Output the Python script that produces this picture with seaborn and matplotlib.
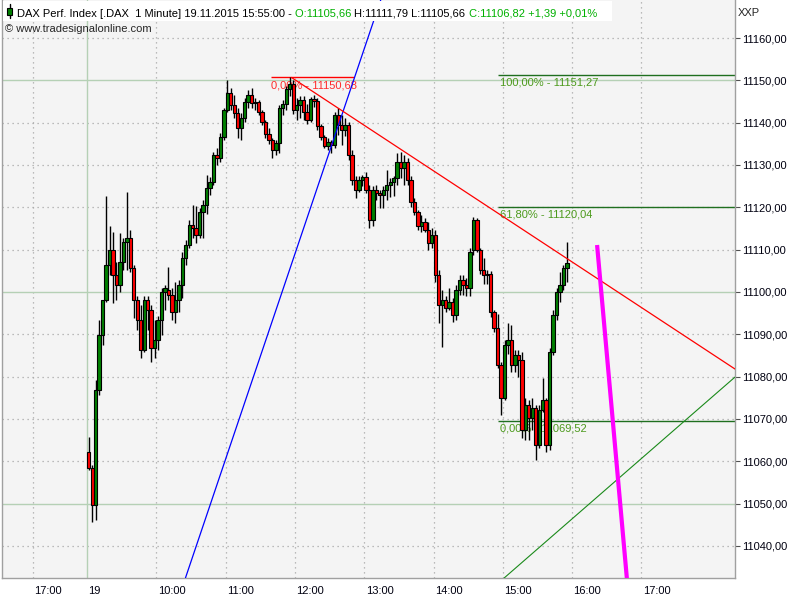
import numpy as np
import pandas as pd
import matplotlib
matplotlib.use("Agg")
import matplotlib.pyplot as plt
import matplotlib.transforms as mtransforms
from matplotlib.patches import Rectangle
from matplotlib.lines import Line2D
from matplotlib.text import Annotation
import seaborn as sns

# DAX 19.11.2015, candles (3-minute steps from 09:00)
opens = [
    11062.2, 11058.4, 11049.7, 11076.9, 11089.8, 11098.1, 11106.4, 11109.9, 11104.0, 11101.7,
    11107.1, 11111.8, 11112.8, 11105.7, 11098.1, 11093.4, 11086.3, 11098.1, 11095.8, 11086.8,
    11088.7, 11093.4, 11100.0, 11100.5, 11099.3, 11095.3, 11098.1, 11101.7, 11108.0, 11111.1,
    11115.8, 11115.1, 11113.5, 11118.9, 11120.6, 11124.6, 11126.0, 11132.4, 11131.7, 11136.6,
    11143.0, 11147.0, 11144.2, 11142.3, 11138.7, 11141.1, 11144.9, 11146.5, 11144.7, 11144.9,
    11142.5, 11140.2, 11137.3, 11135.9, 11133.5, 11135.2, 11143.5, 11144.4, 11148.0, 11149.1,
    11143.0, 11144.2, 11145.4, 11142.5, 11140.6, 11145.6, 11145.1, 11139.2, 11136.6, 11134.5,
    11135.4, 11134.7, 11141.8, 11139.5, 11138.3, 11139.5, 11132.4, 11126.5, 11124.1, 11126.5,
    11127.2, 11124.1, 11117.0, 11124.1, 11123.4, 11122.9, 11124.1, 11125.3, 11126.0, 11126.9,
    11130.7, 11129.3, 11130.7, 11126.5, 11121.3, 11118.9, 11115.6, 11116.5, 11114.6, 11111.6,
    11113.5, 11104.0, 11096.9, 11098.1, 11096.2, 11097.6, 11094.6, 11100.5, 11102.8, 11101.7,
    11100.9, 11109.9, 11117.0, 11109.9, 11105.2, 11104.0, 11104.3, 11095.3, 11091.5, 11082.8,
    11075.0, 11087.5, 11088.7, 11082.8, 11085.1, 11083.9, 11067.4, 11073.3, 11070.2, 11072.6,
    11063.9, 11072.1, 11074.5, 11063.9, 11085.8, 11094.6, 11100.0, 11101.7, 11105.7,
]
highs = [
    11065.7, 11059.1, 11079.2, 11093.4, 11098.1, 11122.7, 11115.6, 11114.2, 11107.1, 11113.9,
    11112.8, 11123.6, 11114.6, 11106.4, 11099.1, 11096.9, 11099.1, 11099.1, 11096.9, 11093.4,
    11094.3, 11100.9, 11101.7, 11105.9, 11100.9, 11102.4, 11102.8, 11109.5, 11112.3, 11117.0,
    11120.6, 11120.3, 11119.8, 11121.7, 11127.6, 11127.2, 11133.1, 11134.0, 11137.6, 11143.5,
    11150.1, 11148.2, 11146.5, 11143.5, 11142.3, 11145.8, 11147.7, 11148.2, 11145.8, 11145.4,
    11143.0, 11140.6, 11138.7, 11136.4, 11135.9, 11144.2, 11145.4, 11148.7, 11150.7, 11150.1,
    11145.8, 11146.3, 11146.3, 11144.4, 11146.1, 11146.5, 11145.8, 11139.7, 11137.1, 11136.4,
    11135.9, 11142.5, 11143.5, 11141.8, 11141.1, 11140.2, 11133.5, 11127.4, 11127.4, 11127.6,
    11128.4, 11125.3, 11125.0, 11125.3, 11124.1, 11125.0, 11128.8, 11126.9, 11127.4, 11132.8,
    11133.1, 11132.4, 11131.7, 11127.4, 11122.2, 11119.4, 11118.2, 11117.5, 11116.5, 11115.1,
    11114.6, 11105.2, 11100.5, 11099.1, 11100.9, 11098.6, 11101.7, 11104.0, 11104.0, 11103.3,
    11110.4, 11117.7, 11117.5, 11110.4, 11108.0, 11105.2, 11105.0, 11095.8, 11094.8, 11083.5,
    11088.7, 11092.7, 11092.2, 11086.3, 11086.3, 11085.8, 11075.0, 11074.5, 11075.0, 11073.3,
    11073.3, 11079.7, 11075.0, 11086.8, 11095.8, 11100.9, 11104.7, 11106.4, 11111.8,
]
lows = [
    11058.0, 11045.7, 11046.1, 11075.7, 11087.5, 11097.6, 11104.0, 11097.4, 11098.1, 11100.0,
    11105.2, 11105.2, 11104.7, 11093.9, 11091.0, 11084.4, 11085.8, 11091.0, 11083.5, 11084.4,
    11086.3, 11089.8, 11095.8, 11098.1, 11093.4, 11092.7, 11095.3, 11098.6, 11106.4, 11110.4,
    11112.8, 11111.6, 11112.8, 11112.8, 11118.4, 11122.9, 11125.3, 11130.0, 11130.7, 11135.9,
    11142.5, 11143.0, 11141.1, 11136.4, 11135.9, 11140.2, 11143.5, 11143.5, 11143.0, 11141.8,
    11139.5, 11136.4, 11135.0, 11131.7, 11132.4, 11132.8, 11141.8, 11143.0, 11146.3, 11142.0,
    11140.6, 11141.1, 11140.6, 11139.7, 11140.2, 11143.7, 11138.3, 11135.9, 11134.0, 11133.5,
    11132.8, 11134.0, 11137.1, 11134.7, 11136.9, 11131.2, 11125.3, 11122.2, 11123.6, 11125.0,
    11123.4, 11115.1, 11115.6, 11121.7, 11119.8, 11119.8, 11121.7, 11122.4, 11122.7, 11125.3,
    11126.9, 11125.3, 11125.3, 11120.1, 11118.2, 11114.6, 11114.2, 11114.2, 11109.9, 11110.4,
    11102.4, 11092.7, 11087.0, 11095.3, 11095.8, 11092.9, 11093.4, 11099.3, 11099.3, 11099.1,
    11099.1, 11108.7, 11109.5, 11104.3, 11101.9, 11101.9, 11094.1, 11090.6, 11082.0, 11070.9,
    11074.5, 11085.4, 11081.1, 11081.1, 11079.9, 11065.5, 11065.0, 11065.0, 11067.4, 11060.3,
    11063.1, 11071.6, 11062.2, 11062.7, 11085.1, 11093.4, 11097.6, 11100.5, 11102.4,
]
closes = [
    11058.4, 11049.7, 11076.9, 11089.8, 11098.1, 11106.4, 11109.9, 11104.0, 11101.7, 11107.1,
    11111.8, 11112.8, 11105.7, 11098.1, 11093.4, 11086.3, 11098.1, 11095.8, 11086.8, 11088.7,
    11093.4, 11100.0, 11100.9, 11099.3, 11095.3, 11098.1, 11101.7, 11108.0, 11111.1, 11115.8,
    11115.1, 11113.5, 11118.9, 11120.6, 11124.6, 11126.0, 11132.4, 11131.7, 11136.6, 11143.0,
    11147.0, 11144.2, 11142.3, 11138.7, 11141.1, 11144.9, 11146.5, 11144.7, 11144.9, 11142.5,
    11140.2, 11137.3, 11135.9, 11133.5, 11135.2, 11143.5, 11144.4, 11148.0, 11149.1, 11143.0,
    11144.2, 11145.4, 11142.5, 11140.6, 11145.6, 11145.1, 11139.2, 11136.6, 11134.5, 11135.4,
    11134.7, 11141.8, 11139.5, 11138.3, 11139.5, 11132.4, 11126.5, 11124.1, 11126.5, 11127.2,
    11124.1, 11117.0, 11124.1, 11123.4, 11122.9, 11124.1, 11125.3, 11126.0, 11126.9, 11130.7,
    11129.3, 11130.7, 11126.5, 11121.3, 11118.9, 11115.6, 11116.5, 11114.6, 11111.6, 11113.5,
    11104.0, 11096.9, 11098.1, 11096.2, 11097.6, 11094.6, 11100.5, 11102.8, 11101.7, 11100.9,
    11109.5, 11117.0, 11109.9, 11105.2, 11104.0, 11104.3, 11095.3, 11091.5, 11082.8, 11075.0,
    11087.5, 11088.7, 11082.8, 11085.1, 11083.9, 11067.4, 11073.3, 11070.2, 11072.6, 11063.9,
    11072.1, 11074.5, 11063.9, 11085.8, 11094.6, 11100.0, 11101.7, 11105.7, 11106.8,
]

# time axis is minutes from the 09:00 open (the previous day is squeezed to the left)
tick_minutes = [-47, 0, 60, 120, 180, 240, 300, 360, 420, 480]
tick_labels = ["17:00", "19", "10:00", "11:00", "12:00", "13:00", "14:00", "15:00", "16:00", "17:00"]
price_ticks = [11040, 11050, 11060, 11070, 11080, 11090, 11100, 11110, 11120, 11130, 11140, 11150, 11160]
green_levels = [11050, 11100, 11150]

# drawing tools: (minutes, price) anchors
blue_t, blue_p = [187.0, 233.8], [11114.64, 11152.44]
red_t, red_p = [177.0, 561.0], [11150.68, 11081.8]
lower_t, lower_p = [361.0, 561.0], [11032.4, 11079.9]
magenta_t, magenta_p = [441.6, 467.5], [11111.1, 11032.0]

fib0_level, fib0_t = 11150.68, [159.3, 231.2]
fib_levels = [11151.27, 11120.04, 11069.52]
fib_pcts = ["100,00%", "61,80%", "0,00%"]
fib_start = 355.8

sns.set_style("white")
plt.rcParams['font.family'] = ['Liberation Sans', 'DejaVu Sans']
FS = 8

bars = pd.DataFrame({"open": opens, "high": highs, "low": lows, "close": closes},
                    index=pd.date_range("2015-11-19 09:00", periods=len(closes), freq="3min"))
session_open = pd.Timestamp("2015-11-19 09:00")
bars["t"] = (bars.index - session_open).total_seconds() / 60 + 1.5

fig = plt.figure(figsize=(8, 6), dpi=100)
ax = fig.add_axes([2 / 800, 22 / 600, 733 / 800, 578 / 600])
ax.set_facecolor('#f4f4f4')
ax.set_xlim(-73.6, 561.0)
ax.set_ylim(11032.43, 11168.98)

# grid
for tm in tick_minutes:
    if tm != 0:
        ax.axvline(tm, color='#a8a8a8', lw=0.9, ls=(0, (1, 3)), zorder=0)
for pv in price_ticks:
    if pv not in green_levels:
        ax.axhline(pv, color='#a8a8a8', lw=0.9, ls=(0, (1, 3)), zorder=0)
for pv in green_levels:
    ax.axhline(pv, color='#b5d0b5', lw=1, zorder=1)
ax.axvline(0, color='#b5d0b5', lw=1, zorder=1)

# fibonacci levels
ax.hlines(fib0_level, fib0_t[0], fib0_t[1], color='#ff0000', lw=1, zorder=2)
ax.annotate(f"0,00% - {fib0_level:.2f}".replace('.', ','), (fib0_t[0], fib0_level),
            xytext=(0, -2), textcoords='offset points', ha='left', va='top',
            color='#ff2a2a', fontsize=FS, zorder=2)
for lvl, pct in zip(fib_levels, fib_pcts):
    ax.hlines(lvl, fib_start, 561.0, color='#1f6f1f', lw=1, zorder=2)
    ax.annotate(f"{pct} - {lvl:.2f}".replace('.', ','), (fib_start, lvl),
                xytext=(1.5, -2), textcoords='offset points', ha='left', va='top',
                color='#4c9a1c', fontsize=FS, zorder=2)

# candles
up = bars["close"] >= bars["open"]
body_lo = bars[["open", "close"]].min(axis=1)
body_h = (bars["close"] - bars["open"]).abs().clip(lower=0.2)
ax.vlines(bars["t"], bars["low"], bars["high"], color='black', lw=1, zorder=3)
ax.bar(bars["t"], body_h, bottom=body_lo, width=2.9,
       color=np.where(up, '#008000', '#ff0000'), edgecolor='black', linewidth=0.8, zorder=4)

# drawing tools
ax.axline((blue_t[0], blue_p[0]), (blue_t[1], blue_p[1]), color='#0000ff', lw=0.9, zorder=5)
ax.plot(red_t, red_p, color='#ff0000', lw=0.9, zorder=5)
ax.axline((lower_t[0], lower_p[0]), (lower_t[1], lower_p[1]), color='#1a8a1a', lw=0.8, zorder=5)
ax.plot(magenta_t, magenta_p, color='#ff00ff', lw=3, zorder=5, solid_capstyle='butt')

# axes
ax.spines['top'].set_visible(False)
for side in ['left', 'right', 'bottom']:
    ax.spines[side].set_color('#a0a0a0')
    ax.spines[side].set_linewidth(1)
ax.yaxis.tick_right()
ax.set_yticks(price_ticks)
ax.set_yticklabels([f"{v:.2f}".replace('.', ',') for v in price_ticks])
ax.tick_params(axis='y', length=3.6, width=0.8, color='#505050', pad=1.5,
               labelsize=FS, labelcolor='#000010')
ax.set_xticks(tick_minutes)
ax.set_xticklabels(tick_labels)
ax.tick_params(axis='x', length=5, width=0.8, color='#505050', pad=0.5,
               labelsize=FS, labelcolor='#000010')
shift = mtransforms.ScaledTranslation(1 / 72, 0, fig.dpi_scale_trans)
for lab in ax.get_xticklabels():
    lab.set_horizontalalignment('left')
    lab.set_transform(lab.get_transform() + shift)

# header
fig.add_artist(Rectangle((3 / 800, 1 - 21 / 600), 609 / 800, 20 / 600,
                         transform=fig.transFigure, facecolor='white', edgecolor='none', zorder=6))
fig.add_artist(Line2D([9.5 / 800, 9.5 / 800], [1 - 18 / 600, 1 - 4 / 600],
                      transform=fig.transFigure, color='black', lw=1, zorder=7))
fig.add_artist(Rectangle((7 / 800, 1 - 15 / 600), 5 / 800, 7 / 600, transform=fig.transFigure,
                         facecolor='#008000', edgecolor='black', lw=0.8, zorder=8))
pieces = [("DAX Perf. Index [.DAX  1 Minute] 19.11.2015 15:55:00 - ", 'black'),
          ("O:11105,66 ", '#00b000'),
          ("H:11111,79 L:11105,66 ", 'black'),
          ("C:11106,82 +1,39 +0,01%", '#00b000')]
prev = fig.text(17 / 800, 1 - 19 / 600, pieces[0][0], color=pieces[0][1],
                fontsize=FS, ha='left', va='bottom', zorder=9)
for txt, col in pieces[1:]:
    prev = fig.add_artist(Annotation(txt, xy=(1, 0), xycoords=prev, ha='left', va='bottom',
                                     color=col, fontsize=FS, annotation_clip=False, zorder=9))
fig.text(5 / 800, 1 - 32 / 600, "\u00a9 www.tradesignalonline.com", fontsize=FS,
         ha='left', va='baseline', zorder=9)
fig.text(738 / 800, 1 - 16 / 600, "XXP", fontsize=FS, ha='left', va='baseline')

fig.savefig("out.png", dpi=100)
